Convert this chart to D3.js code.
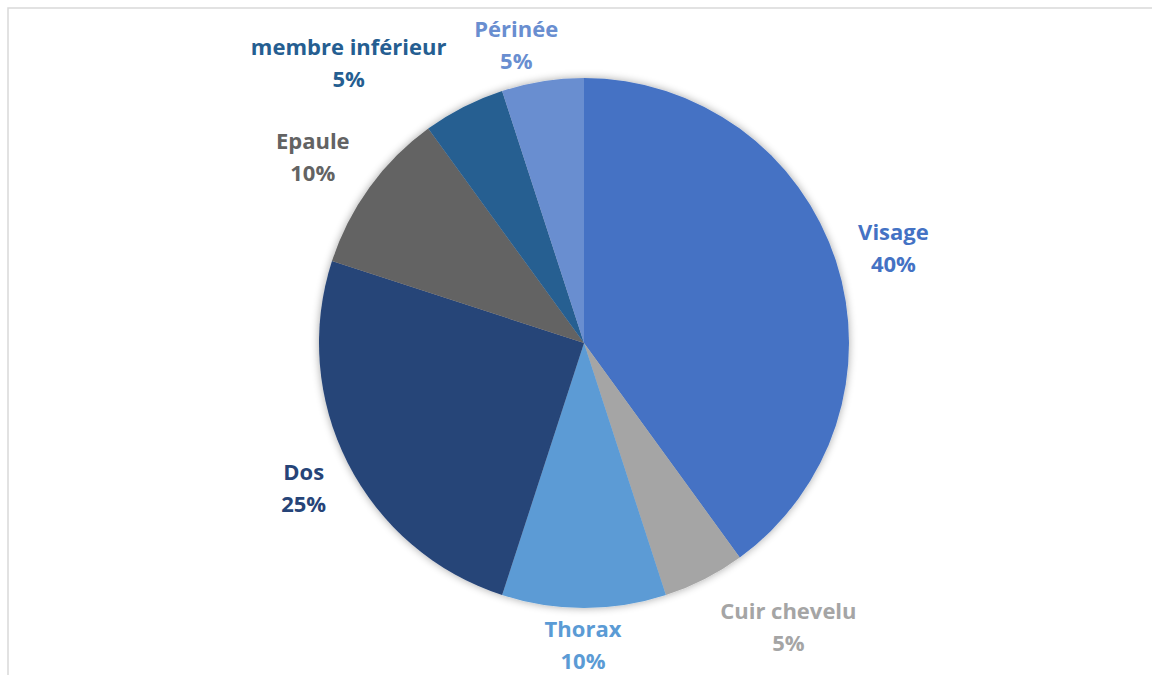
<!DOCTYPE html>
<html>
<head>
<meta charset="utf-8">
<script src="https://cdn.jsdelivr.net/npm/d3@7"></script>
<style>
  html, body { margin: 0; padding: 0; background: #fff; }
  svg { display: block; }
</style>
</head>
<body>
<svg id="chart"></svg>
<script>
// data
var labels = ["Visage", "Cuir chevelu", "Thorax", "Dos", "Epaule", "membre inférieur", "Périnée"];
var values = [40, 5, 10, 25, 10, 5, 5];
var colors = ["#4472C4", "#A5A5A5", "#5B9BD5", "#264478", "#636363", "#255E91", "#698ED0"];

// label nudges (layout only), relative to the outer label arc
var nudges = [[7, 3], [60, 0], [-1, -16], [3, 0], [-14, 1], [-91, 3], [-18, 16]];

var svgWidth = 1152, svgHeight = 675;
var cx = 584, cy = 343, radius = 265;

var svg = d3.select("#chart")
    .attr("width", svgWidth)
    .attr("height", svgHeight);

// chart frame (runs past the right and bottom edge like the screenshot)
svg.append("rect")
    .attr("x", 8).attr("y", 8)
    .attr("width", svgWidth + 20).attr("height", svgHeight + 20)
    .attr("fill", "#fff")
    .attr("stroke", "#D9D9D9")
    .attr("stroke-width", 1.5);

var defs = svg.append("defs");
var f = defs.append("filter").attr("id", "shadow")
    .attr("x", "-10%").attr("y", "-10%").attr("width", "120%").attr("height", "120%");
f.append("feGaussianBlur").attr("in", "SourceAlpha").attr("stdDeviation", 4).attr("result", "blur");
f.append("feComponentTransfer").attr("in", "blur").attr("result", "soft")
  .append("feFuncA").attr("type", "linear").attr("slope", 0.35);
var m = f.append("feMerge");
m.append("feMergeNode").attr("in", "soft");
m.append("feMergeNode").attr("in", "SourceGraphic");

var data = labels.map(function(l, i) {
    return { label: l, value: values[i], color: colors[i], nudge: nudges[i] };
});

var pie = d3.pie()
    .sort(null)
    .value(function(d) { return d.value; });

var arc = d3.arc().innerRadius(0).outerRadius(radius);
var labelArc = d3.arc().innerRadius(318).outerRadius(318);

var total = d3.sum(values);
var arcs = pie(data);

var g = svg.append("g")
    .attr("transform", "translate(" + cx + "," + cy + ")");

g.append("g")
    .attr("filter", "url(#shadow)")
    .selectAll("path")
    .data(arcs)
    .enter().append("path")
    .attr("d", arc)
    .attr("fill", function(d) { return d.data.color; });

var lab = g.selectAll("text.lbl")
    .data(arcs)
    .enter().append("text")
    .attr("class", "lbl")
    .attr("text-anchor", "middle")
    .attr("font-family", "'Open Sans', Lato, sans-serif")
    .attr("font-weight", "bold")
    .attr("font-size", "22px")
    .attr("fill", function(d) { return d.data.color; })
    .attr("transform", function(d) {
        var c = labelArc.centroid(d);
        return "translate(" + (c[0] + d.data.nudge[0]) + "," + (c[1] + d.data.nudge[1]) + ")";
    });

lab.append("tspan")
    .attr("x", 0).attr("y", -15.5)
    .attr("dy", "0.35em")
    .text(function(d) { return d.data.label; });

lab.append("tspan")
    .attr("x", 0).attr("y", 16.5)
    .attr("dy", "0.35em")
    .text(function(d) { return d3.format(".0%")(d.data.value / total); });
</script>
</body>
</html>
